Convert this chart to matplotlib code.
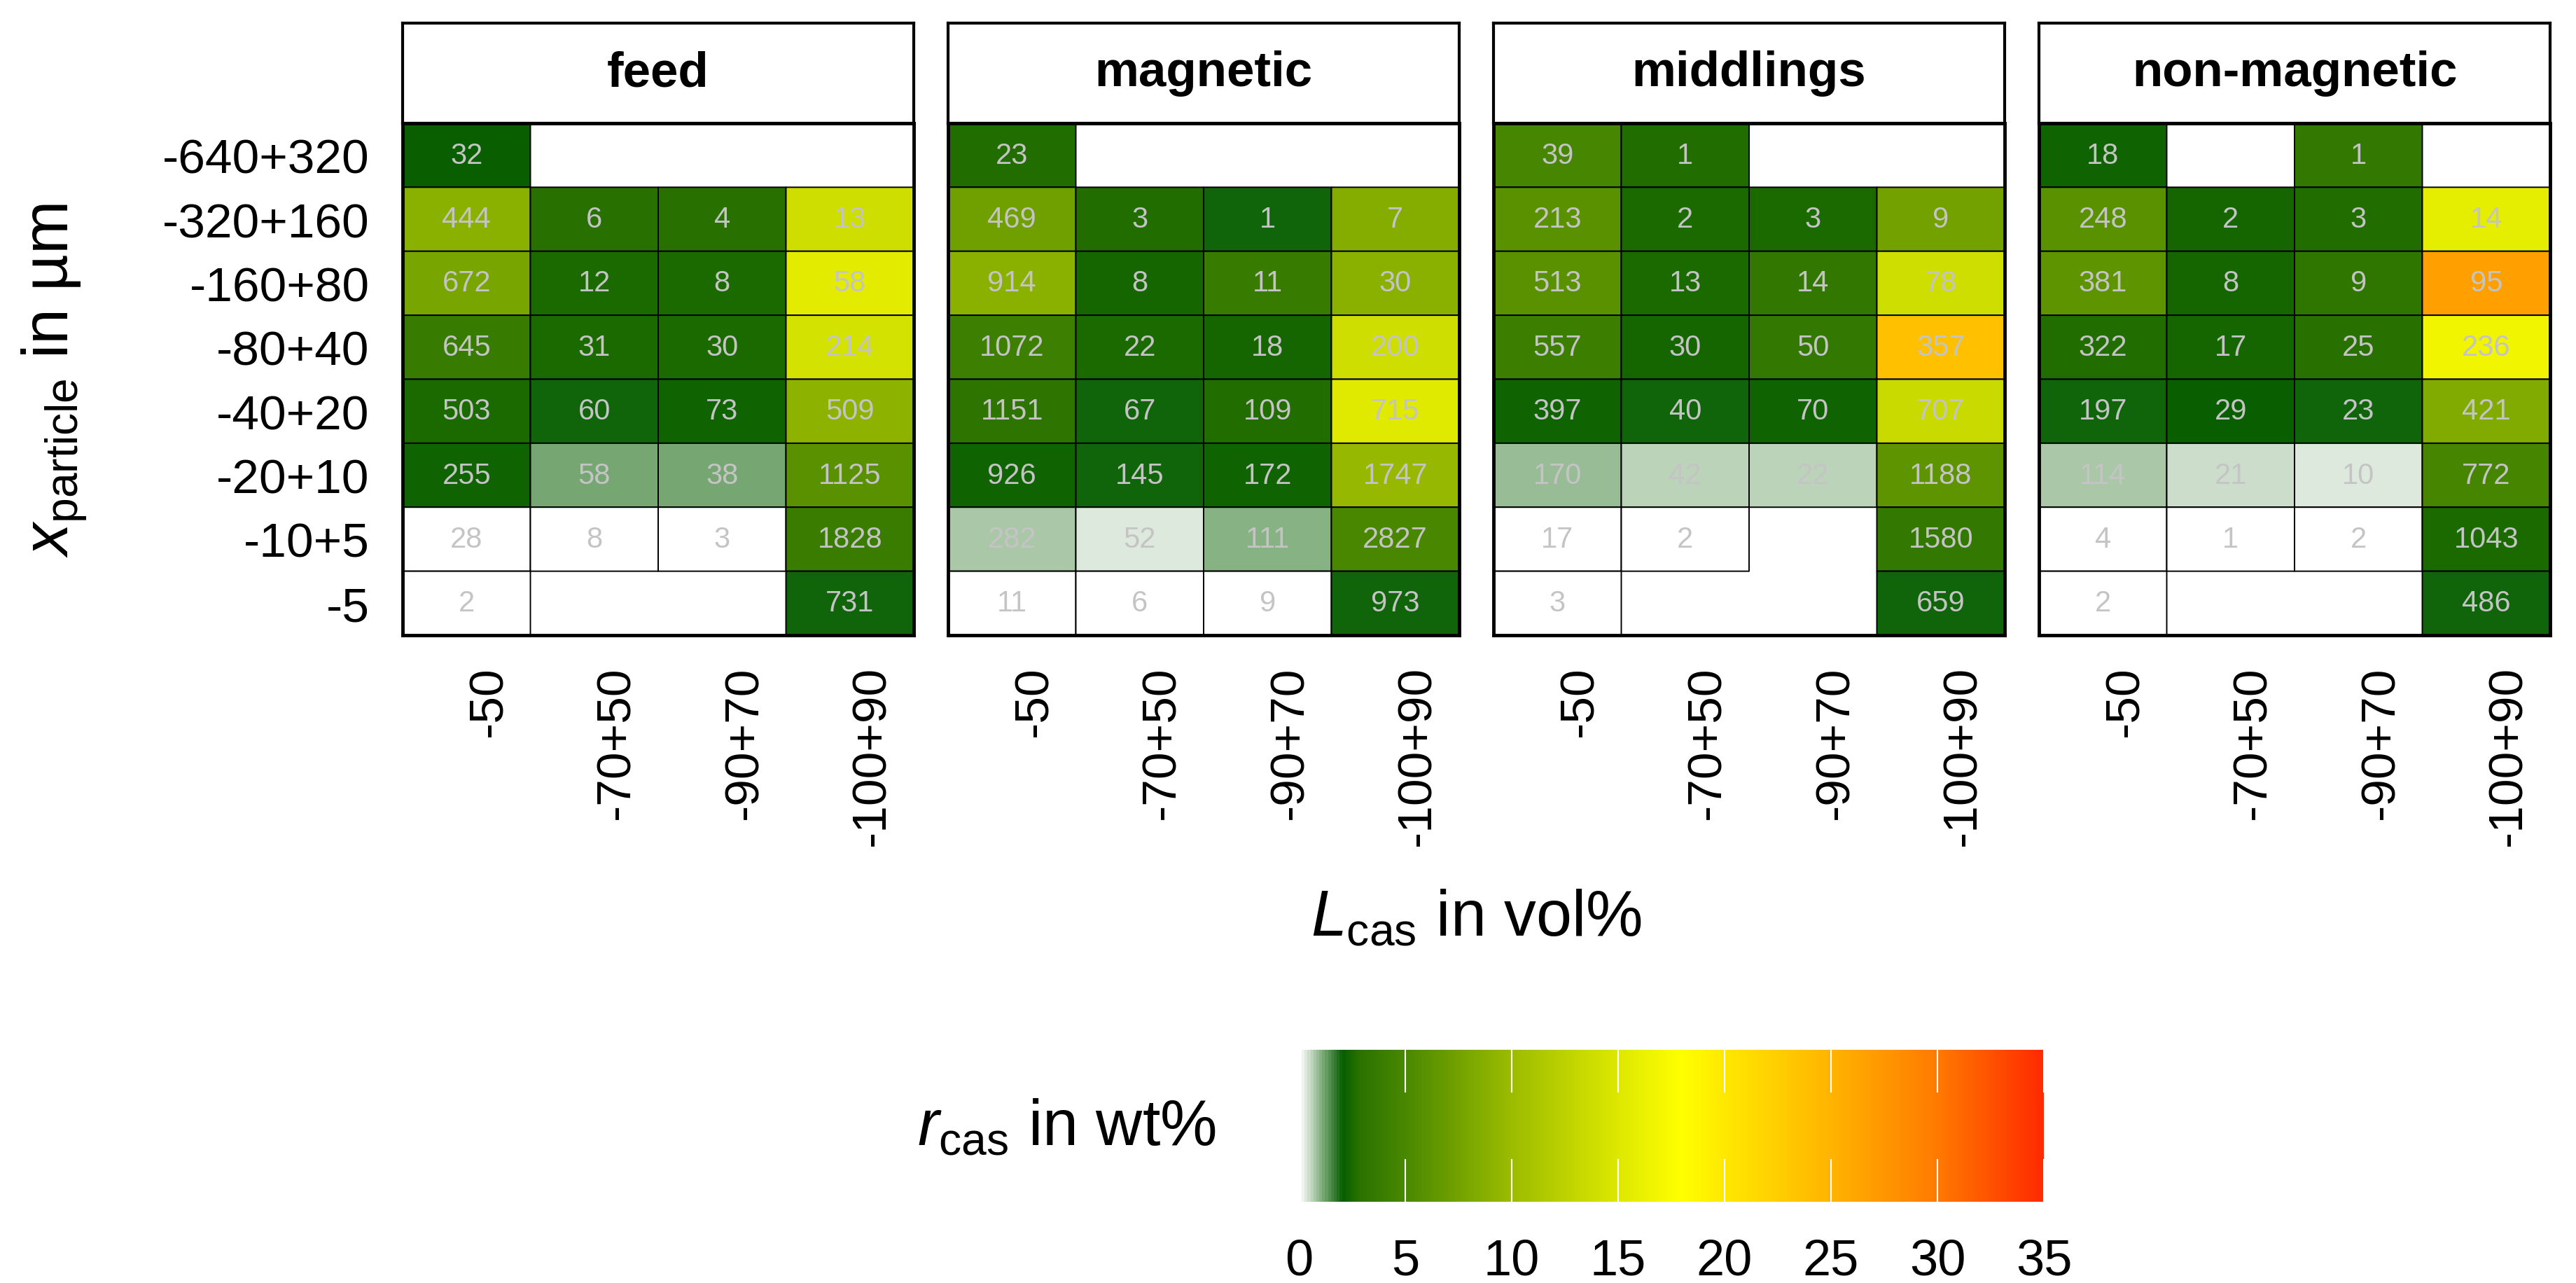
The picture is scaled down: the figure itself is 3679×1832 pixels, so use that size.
import numpy as np
import matplotlib
matplotlib.use('Agg')
import matplotlib.pyplot as plt
from matplotlib.colors import LinearSegmentedColormap, Normalize
from matplotlib.cm import ScalarMappable

plt.rcParams['font.family'] = 'Liberation Sans'
plt.rcParams['mathtext.fontset'] = 'custom'
plt.rcParams['mathtext.rm'] = 'Liberation Sans'
plt.rcParams['mathtext.it'] = 'Liberation Sans:italic'

# Kategorie
products = ['feed', 'magnetic', 'middlings', 'non-magnetic']
size_classes = ['-640+320', '-320+160', '-160+80', '-80+40', '-40+20', '-20+10', '-10+5', '-5']
lcas_classes = ['-50', '-70+50', '-90+70', '-100+90']

# r_cas in wt% (kolor komorki), None = brak danych
r_feed = [[2.1, None, None, None],
          [8.9, 2.8, 2.8, 13.9],
          [7.8, 2.5, 2.5, 15.5],
          [3.8, 2.5, 2.5, 14.3],
          [2.5, 2.0, 2.3, 9.1],
          [2.2, 1.15, 1.15, 6.0],
          [0.08, 0.03, 0.01, 3.9],
          [0.01, None, None, 2.0]]
r_magnetic = [[2.7, None, None, None],
              [7.3, 2.7, 1.95, 8.6],
              [9.0, 2.4, 3.8, 8.9],
              [4.2, 2.5, 2.4, 13.9],
              [3.1, 2.0, 2.7, 15.3],
              [2.2, 1.95, 2.2, 9.6],
              [0.71, 0.31, 1.0, 5.0],
              [0.01, 0.01, 0.03, 2.0]]
r_middlings = [[4.8, 2.7, None, None],
               [6.0, 2.5, 2.5, 7.4],
               [6.0, 2.5, 3.4, 13.9],
               [4.0, 2.4, 3.5, 23.8],
               [2.3, 2.0, 2.3, 13.4],
               [0.94, 0.61, 0.61, 6.2],
               [0.02, 0.01, None, 3.5],
               [0.01, None, None, 2.0]]
r_nonmagnetic = [[2.2, None, 3.5, None],
                 [6.0, 2.4, 2.7, 15.8],
                 [6.2, 2.4, 3.2, 26.7],
                 [2.7, 2.4, 2.8, 16.7],
                 [2.0, 2.1, 2.0, 8.4],
                 [0.81, 0.45, 0.29, 4.7],
                 [0.01, 0.01, 0.02, 2.5],
                 [0.01, None, None, 2.0]]

# liczba czastek (etykiety w komorkach)
n_feed = [[32, None, None, None],
          [444, 6, 4, 13],
          [672, 12, 8, 58],
          [645, 31, 30, 214],
          [503, 60, 73, 509],
          [255, 58, 38, 1125],
          [28, 8, 3, 1828],
          [2, None, None, 731]]
n_magnetic = [[23, None, None, None],
              [469, 3, 1, 7],
              [914, 8, 11, 30],
              [1072, 22, 18, 200],
              [1151, 67, 109, 715],
              [926, 145, 172, 1747],
              [282, 52, 111, 2827],
              [11, 6, 9, 973]]
n_middlings = [[39, 1, None, None],
               [213, 2, 3, 9],
               [513, 13, 14, 78],
               [557, 30, 50, 357],
               [397, 40, 70, 707],
               [170, 42, 22, 1188],
               [17, 2, None, 1580],
               [3, None, None, 659]]
n_nonmagnetic = [[18, None, 1, None],
                 [248, 2, 3, 14],
                 [381, 8, 9, 95],
                 [322, 17, 25, 236],
                 [197, 29, 23, 421],
                 [114, 21, 10, 772],
                 [4, 1, 2, 1043],
                 [2, None, None, 486]]

r_all = [r_feed, r_magnetic, r_middlings, r_nonmagnetic]
n_all = [n_feed, n_magnetic, n_middlings, n_nonmagnetic]

# Skala kolorow
cmap_vals = [0, 2, 2.8, 5, 10, 15, 18, 20, 25, 30, 35]
cmap_cols = ['#ffffff', '#065e00', '#2a7200', '#4a8800', '#9cbc00', '#dde800',
             '#ffff00', '#ffe800', '#ffb400', '#ff7a00', '#ff2a00']
cmap = LinearSegmentedColormap.from_list(
    'rcas', list(zip(np.array(cmap_vals) / 35, cmap_cols)))
norm = Normalize(0, 35)

W, H = 3679, 1833
fig = plt.figure(figsize=(W / 100, H / 100), dpi=100)

panel_left = [575, 1354, 2133, 2912]
pw = 730
strip_top, grid_top, grid_bot = 34, 177, 908

for k, name in enumerate(products):
    l = panel_left[k]
    ax = fig.add_axes([l / W, 1 - grid_bot / H, pw / W, (grid_bot - grid_top) / H])
    sax = fig.add_axes([l / W, 1 - grid_top / H, pw / W, (grid_top - strip_top) / H])

    r = np.ma.masked_invalid(np.array(r_all[k], dtype=float))
    ax.pcolor(np.arange(5), np.arange(9), r, cmap=cmap, norm=norm,
              edgecolors='black', linewidth=1.4)
    n = n_all[k]
    for i in range(len(size_classes)):
        for j in range(len(lcas_classes)):
            if n[i][j] is not None:
                ax.text(j + 0.5, i + 0.5, str(n[i][j]), ha='center', va='center',
                        fontsize=30, color='#c4c4c4')
    ax.set_xlim(0, 4)
    ax.set_ylim(8, 0)
    ax.set_xticks(np.arange(4) + 0.5)
    ax.set_xticklabels(lcas_classes, rotation=90, ha='left', va='top', fontsize=50)
    ax.set_yticks(np.arange(8) + 0.5)
    if k == 0:
        ax.set_yticklabels(size_classes, fontsize=50)
    else:
        ax.set_yticklabels([])
    ax.tick_params(axis='x', length=0, pad=31)
    ax.tick_params(axis='y', length=0, pad=34)
    for sp in ax.spines.values():
        sp.set_linewidth(3.5)

    sax.set_xticks([])
    sax.set_yticks([])
    for sp in sax.spines.values():
        sp.set_linewidth(3)
    sax.text(0.5, 0.5, name, transform=sax.transAxes, ha='center', va='center',
             fontsize=51, fontweight='bold')

# Tytuly osi
fig.text(78 / W, 1 - 543 / H, r'$x_{\mathrm{particle}}$ in µm', rotation=90,
         ha='center', va='center', fontsize=66)
fig.text(2108 / W, 1 - 1337 / H, r'$L_{\mathrm{cas}}$ in vol%', ha='center',
         va='baseline', fontsize=66)

# Legenda (pasek kolorow)
cax = fig.add_axes([1855 / W, 1 - 1717 / H, (2919 - 1855) / W, 217 / H])
cbar = fig.colorbar(ScalarMappable(norm=norm, cmap=cmap), cax=cax, orientation='horizontal')
cbar.outline.set_visible(False)
cbar.set_ticks(np.arange(0, 36, 5))
cax.minorticks_off()
cax.tick_params(which='both', direction='in', top=True, bottom=True,
                labelbottom=True, labeltop=False, color='white', length=44,
                width=1.5, labelsize=52, pad=37)
fig.text(1737 / W, 1 - 1612 / H, r'$r_{\mathrm{cas}}$ in wt%', ha='right',
         va='center', fontsize=66)

plt.savefig('out.png', dpi=100)
